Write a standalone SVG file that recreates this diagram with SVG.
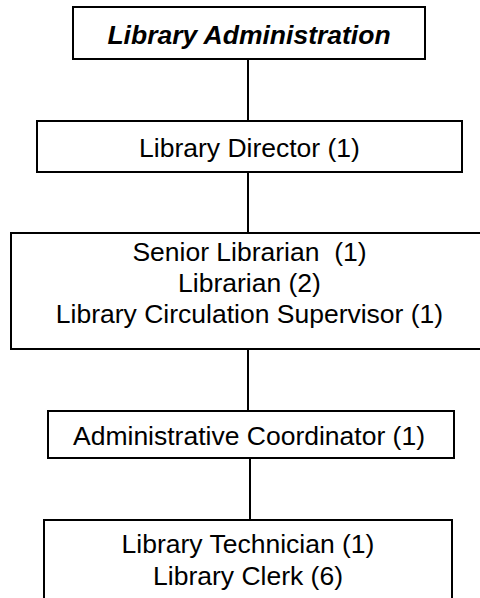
<svg xmlns="http://www.w3.org/2000/svg" width="480" height="598" viewBox="0 0 480 598">
<style>
.box{fill:#fff;stroke:#000;stroke-width:2}
.t{font-family:"Liberation Sans",Arial,sans-serif;font-size:26.5px;fill:#000;text-anchor:middle}
.title{font-weight:bold;font-style:italic}
.con line{stroke:#000;stroke-width:2}
</style>
<rect width="480" height="598" fill="#fff"/>
<g class="con" id="connectors">
<line x1="248" y1="59" x2="248" y2="121"/>
<line x1="248" y1="172" x2="248" y2="233"/>
<line x1="248" y1="349" x2="248" y2="411"/>
<line x1="250" y1="458" x2="250" y2="520"/>
</g>
<g id="admin">
<rect class="box" x="73" y="7" width="352" height="52"/>
<text class="t title" x="249" y="44">Library Administration</text>
</g>
<g id="director">
<rect class="box" x="37" y="121" width="425" height="51"/>
<text class="t" x="249.5" y="157">Library Director (1)</text>
</g>
<g id="librarians">
<rect class="box" x="11" y="233" width="477" height="116"/>
<text class="t" x="249.5" y="261" xml:space="preserve">Senior Librarian  (1)</text>
<text class="t" x="249.5" y="292">Librarian (2)</text>
<text class="t" x="249.5" y="323">Library Circulation Supervisor (1)</text>
</g>
<g id="coordinator">
<rect class="box" x="48" y="411" width="406" height="47"/>
<text class="t" x="249" y="445">Administrative Coordinator (1)</text>
</g>
<g id="staff">
<rect class="box" x="44" y="520" width="408" height="90"/>
<text class="t" x="248" y="553">Library Technician (1)</text>
<text class="t" x="248" y="585">Library Clerk (6)</text>
</g>
</svg>
